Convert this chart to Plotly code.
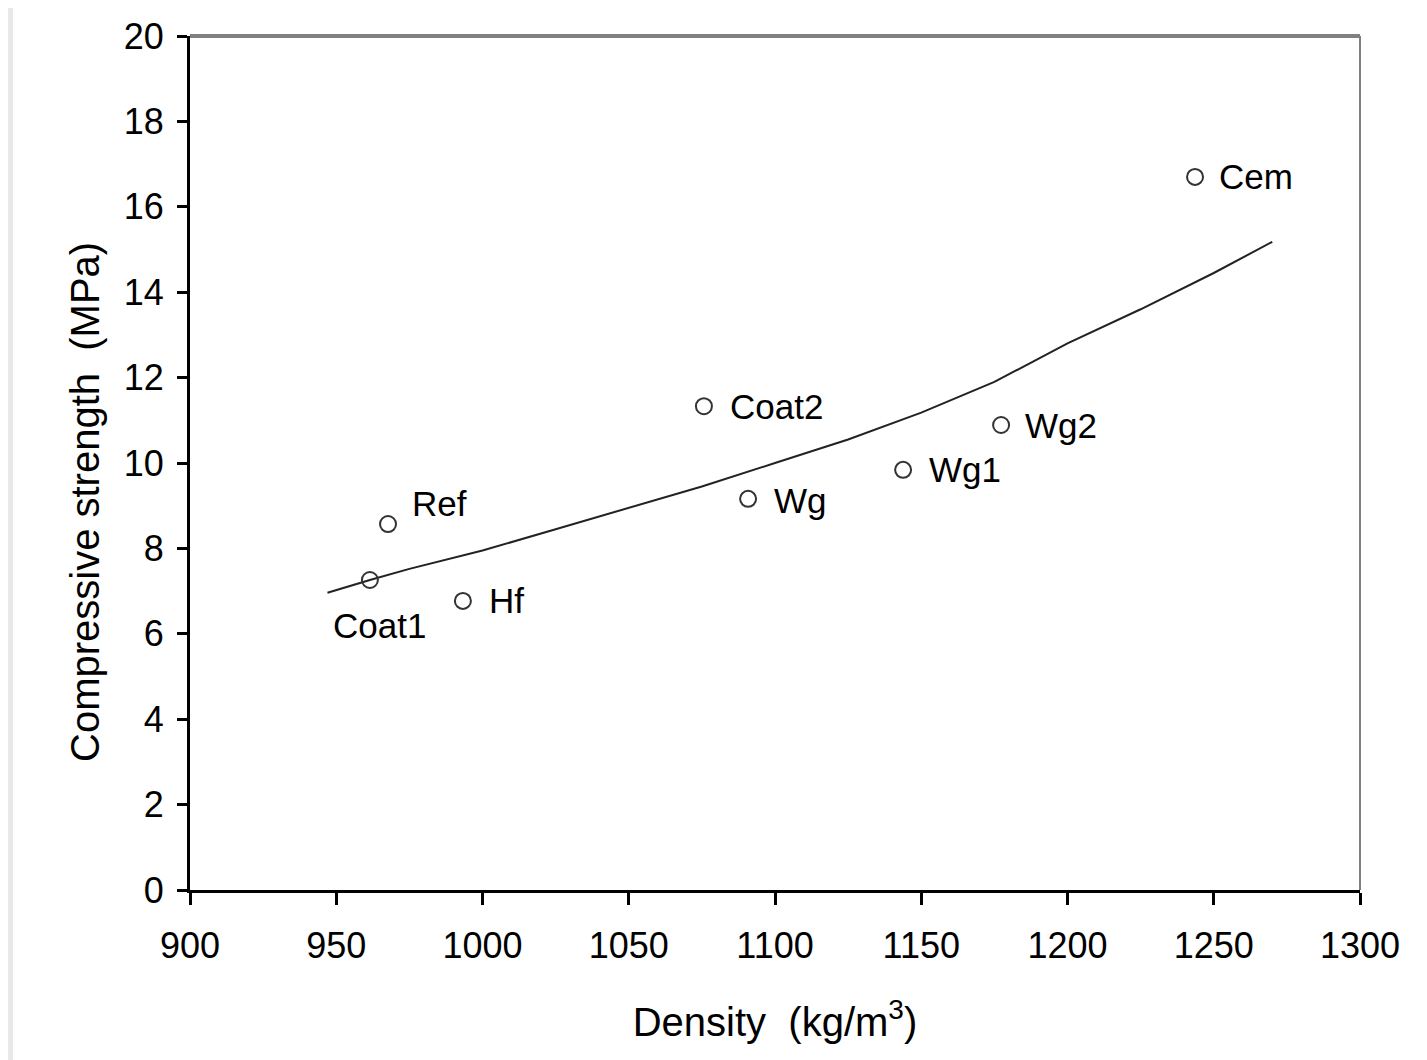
import plotly.graph_objects as go

# Data points
labels = ["Ref", "Coat1", "Hf", "Coat2", "Wg", "Wg1", "Wg2", "Cem"]
density = [967.7, 961.5, 993.3, 1075.7, 1090.8, 1143.8, 1177.3, 1243.6]
strength = [8.57, 7.26, 6.77, 11.33, 9.16, 9.84, 10.89, 16.70]

# Trend curve
trend_x = [947, 961.5, 975, 1000, 1025, 1050, 1075, 1100, 1125, 1150, 1175, 1200, 1225, 1250, 1270]
trend_y = [6.96, 7.26, 7.52, 7.95, 8.45, 8.95, 9.45, 10.0, 10.55, 11.18, 11.9, 12.8, 13.6, 14.45, 15.18]

x_ticks = [900, 950, 1000, 1050, 1100, 1150, 1200, 1250, 1300]
y_ticks = [0, 2, 4, 6, 8, 10, 12, 14, 16, 18, 20]

x_title = "Density  (kg/m<sup>3</sup>)"
y_title = "Compressive strength  (MPa)"

FONT = "Liberation Sans, Arial, sans-serif"

fig = go.Figure()
fig.add_trace(go.Scatter(x=trend_x, y=trend_y, mode="lines",
                         line=dict(color="#222222", width=2), hoverinfo="skip"))
fig.add_trace(go.Scatter(x=density, y=strength, mode="markers",
                         marker=dict(symbol="circle-open", size=16,
                                     line=dict(color="#333333", width=2), color="#333333")))

# label offsets (pixels): (xshift, yshift, xanchor)
offsets = {
    "Ref": (22, 21, "left"),
    "Coat1": (10, -45, "center"),
    "Hf": (24, 0, "left"),
    "Coat2": (24, 0, "left"),
    "Wg": (24, -2, "left"),
    "Wg1": (24, 0, "left"),
    "Wg2": (22, 0, "left"),
    "Cem": (22, 0, "left"),
}
for lab, xv, yv in zip(labels, density, strength):
    xs, ys, xa = offsets[lab]
    fig.add_annotation(x=xv, y=yv, text=lab, showarrow=False, xanchor=xa, yanchor="middle",
                       xshift=xs, yshift=ys, font=dict(family=FONT, size=35, color="black"))

W, H = 1427, 1060
OFF = 8  # page body margin offset
L, T = 190 - OFF, 36 - OFF
pw, ph = 1170, 854
R = W - L - pw
B = H - T - ph


def px2paper_x(px):
    return (px - OFF - L) / pw


def px2paper_y(py):
    return (T + ph - (py - OFF)) / ph


# y-axis title as rotated annotation (positioned like the reference)
fig.add_annotation(xref="paper", yref="paper", x=px2paper_x(85), y=px2paper_y(502),
                   text=y_title, textangle=-90, showarrow=False,
                   xanchor="center", yanchor="middle",
                   font=dict(family=FONT, size=40, color="black"))

shapes = [
    # white page over the light gray textured surround
    dict(type="rect", xref="paper", yref="paper", x0=px2paper_x(13), x1=px2paper_x(1422),
         y0=px2paper_y(1075), y1=px2paper_y(7), fillcolor="white", line=dict(width=0), layer="below"),
    # top and right frame lines (gray)
    dict(type="line", xref="paper", yref="paper", x0=0, x1=1, y0=1, y1=1,
         line=dict(color="#808080", width=4)),
    dict(type="line", xref="paper", yref="paper", x0=1, x1=1, y0=0, y1=1,
         line=dict(color="#808080", width=2)),
]

fig.update_layout(
    width=W, height=H,
    margin=dict(l=L, r=R, t=T, b=B, autoexpand=False),
    paper_bgcolor="#e8e8e8",
    plot_bgcolor="white",
    showlegend=False,
    shapes=shapes,
    font=dict(family=FONT, color="black"),
)
fig.update_xaxes(
    range=[900, 1300], tickvals=x_ticks, ticktext=[str(v) for v in x_ticks],
    showgrid=False, zeroline=False, showline=True, linecolor="black", linewidth=3,
    ticks="outside", ticklen=12, tickwidth=3, tickcolor="black",
    ticklabelstandoff=10,
    tickfont=dict(family=FONT, size=36, color="black"),
    title=dict(text=x_title, font=dict(family=FONT, size=40, color="black"), standoff=43),
)
fig.update_yaxes(
    range=[0, 20], tickvals=y_ticks, ticktext=[str(v) for v in y_ticks],
    showgrid=False, zeroline=False, showline=True, linecolor="black", linewidth=3,
    ticks="outside", ticklen=10, tickwidth=3, tickcolor="black",
    ticklabelstandoff=6,
    tickfont=dict(family=FONT, size=36, color="black"),
)

fig.write_html("out.html")
